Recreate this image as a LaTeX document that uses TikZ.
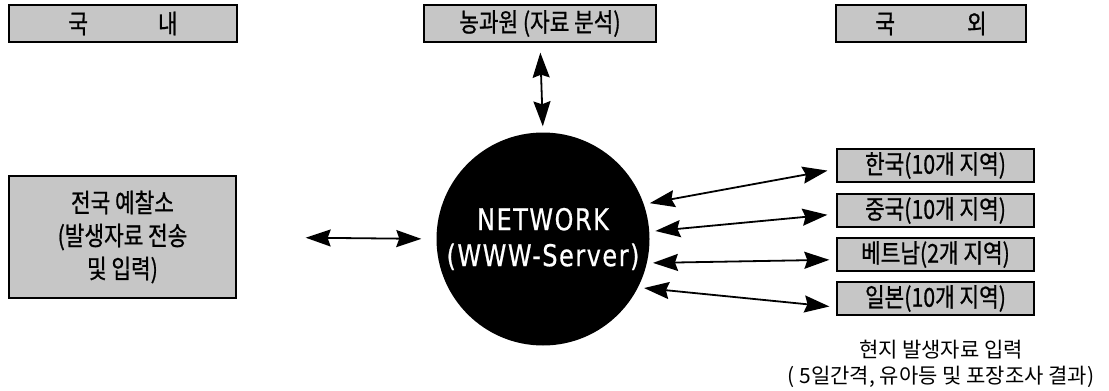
\documentclass[tikz,border=0pt]{standalone}
\usepackage{fontspec}
\newfontfamily\kr{Noto Sans CJK KR}
\newfontfamily\krbox[FakeStretch=0.82,FakeBold=0.8]{Noto Sans CJK KR}
\newfontfamily\hubfnt[FakeStretch=0.8,FakeBold=0.6,LetterSpace=5]{DejaVu Sans}
\usetikzlibrary{arrows.meta}
\definecolor{boxgray}{RGB}{198,198,198}
\tikzset{
  panel/.style={draw=black, line width=1.3pt, fill=boxgray, inner sep=0pt,
    font=\krbox\fontsize{26}{33}\selectfont, align=center},
  region/.style={panel, minimum width=197pt, minimum height=33pt},
  link/.style={line width=1.8pt,
    {Stealth[length=25pt,width=17pt,inset=3pt]}-{Stealth[length=25pt,width=17pt,inset=3pt]}},
  hub/.style={circle, fill=black, minimum size=213pt, inner sep=0pt, text=white,
    font=\hubfnt\fontsize{30}{36}\selectfont, align=center},
  note/.style={font=\kr\fontsize{21}{26}\selectfont, align=center},
}
\begin{document}
\begin{tikzpicture}[x=1pt,y=-1pt]
\useasboundingbox (0,0) rectangle (1109,391);

% header boxes
\node[panel, minimum width=228pt, minimum height=37pt] (dom) at (123,23.5) {국\hspace{70pt}내};
\node[panel, minimum width=232pt, minimum height=37pt] (nong) at (540,23.5) {농과원 (자료 분석)};
\node[panel, minimum width=190pt, minimum height=37pt] (abr) at (931,23.5) {국\hspace{72pt}외};

% domestic stations
\node[panel, minimum width=227pt, minimum height=122pt] (stn) at (122.5,237) {전국 예찰소\\(발생자료 전송\\및 입력)};

% central server
\node[hub] (net) at (543,239) {NETWORK\\(WWW-Server)};

% overseas regions
\node[region] (kor) at (935.5,165.5) {한국(10개 지역)};
\node[region] (chn) at (935.5,210.5) {중국(10개 지역)};
\node[region] (vnm) at (935.5,254.5) {베트남(2개 지역)};
\node[region] (jpn) at (935.5,298.5) {일본(10개 지역)};

\node[note, anchor=north] (cap) at (941,337) {현지 발생자료 입력\\( 5일간격, 유아등 및 포장조사 결과)};

% connections
\draw[link, shorten <=10pt, shorten >=6pt] (nong.south) -- (net.north);
\draw[link, shorten <=69pt, shorten >=15pt] (stn.east) -- (net.west);
\draw[link, shorten <=6pt, shorten >=9pt] (net.19) -- (kor.182.6);
\draw[link, shorten <=6pt, shorten >=9pt] (net.4) -- (chn.182.6);
\draw[link, shorten <=6pt, shorten >=7pt] (net.-13) -- (vnm.183.5);
\draw[link, shorten <=6pt, shorten >=7pt] (net.-27) -- (jpn.185);
\end{tikzpicture}
\end{document}
